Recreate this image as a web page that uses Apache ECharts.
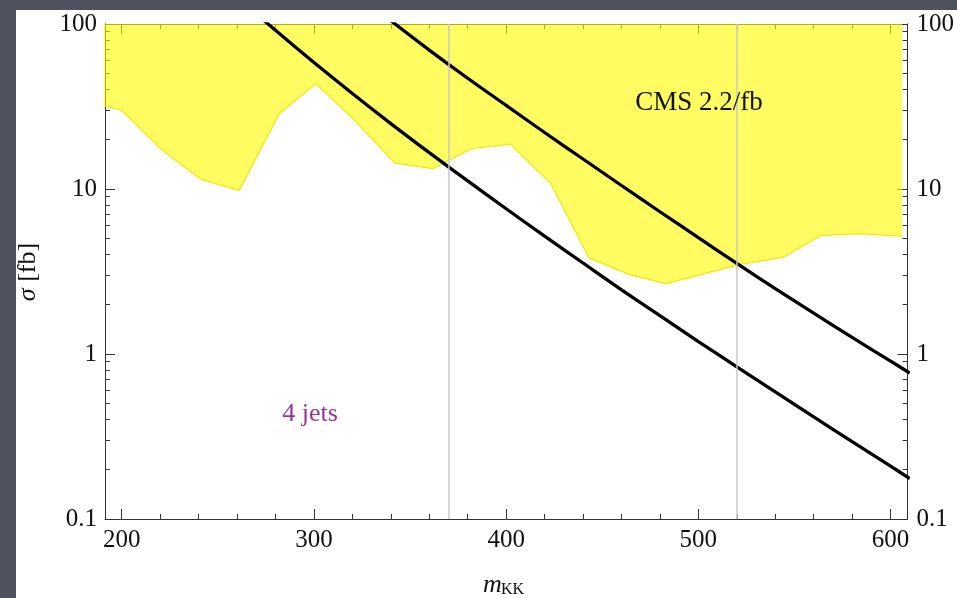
<!DOCTYPE html>
<html>
<head>
<meta charset="utf-8">
<script src="https://cdn.jsdelivr.net/npm/echarts@6/dist/echarts.min.js"></script>
<style>
  html, body { margin: 0; padding: 0; width: 957px; height: 598px; overflow: hidden; background: #4e525e; }
  #panel { position: absolute; left: 16px; top: 10px; width: 941px; height: 588px; background: #ffffff; }
  #chart { position: absolute; left: 0; top: 0; width: 957px; height: 598px; }
</style>
</head>
<body>
<div id="panel"></div>
<div id="chart"></div>
<script>
// CMS 2.2/fb excluded cross sections (lower edge of the excluded band), fb
const cmsMass  = [190, 200, 221, 241, 261, 282, 301, 322, 342, 362, 382, 402, 423, 443, 464, 483, 521, 544, 564, 584, 606];
const cmsSigma = [32.1, 30.0, 17.2, 11.5, 9.8, 28.7, 43.5, 25.5, 14.4, 13.3, 17.6, 18.7, 10.9, 3.84, 3.04, 2.67, 3.48, 3.86, 5.24, 5.37, 5.17];

// Predicted cross sections, 4-jet channel (fb)
const upperMass  = [340, 360, 380, 400, 420, 440, 460, 480, 500, 520, 540, 560, 580, 600, 610];
const upperSigma = [104.7, 69.5, 46.9, 32.1, 22.0, 15.2, 10.5, 7.28, 5.07, 3.54, 2.49, 1.77, 1.26, 0.906, 0.767];

const lowerMass  = [270, 280, 300, 320, 340, 360, 380, 400, 420, 440, 460, 480, 500, 520, 540, 560, 580, 600, 610];
const lowerSigma = [114.8, 91.6, 58.5, 37.9, 24.9, 16.6, 11.2, 7.59, 5.18, 3.56, 2.45, 1.71, 1.19, 0.836, 0.589, 0.416, 0.294, 0.209, 0.176];

// Benchmark masses marked with vertical lines
const markMasses = [370, 520];

// Axis ticks
const xMajorTicks = [200, 300, 400, 500, 600];
const xMinorTicks = [220, 240, 260, 280, 320, 340, 360, 380, 420, 440, 460, 480, 520, 540, 560, 580];
const yMajorTicks = [0.1, 1, 10, 100];
const yMinorTicks = [0.2, 0.3, 0.4, 0.5, 0.6, 0.7, 0.8, 0.9, 2, 3, 4, 5, 6, 7, 8, 9, 20, 30, 40, 50, 60, 70, 80, 90];

const X_MIN = 191.3, X_MAX = 608.8;
const FONT = '"Liberation Serif", "Times New Roman", serif';
const AXIS_COLOR = '#333333';
const pair = (xs, ys) => xs.map((x, i) => [x, ys[i]]);

function xAxisDef(position, ticks, len, withLine, withLabels) {
  return {
    type: 'value', position: position, min: X_MIN, max: X_MAX,
    axisLine: { show: withLine, lineStyle: { color: AXIS_COLOR, width: 1 } },
    axisTick: { show: true, inside: true, length: len, customValues: ticks, lineStyle: { color: AXIS_COLOR, width: 1 } },
    axisLabel: withLabels ? { show: true, customValues: ticks, margin: 9, fontFamily: FONT, fontSize: 25, color: '#111' } : { show: false },
    splitLine: { show: false }
  };
}
function yAxisDef(position, ticks, len, withLine, withLabels, margin) {
  return {
    type: 'log', logBase: 10, position: position, min: 0.1, max: 100,
    axisLine: { show: withLine, lineStyle: { color: AXIS_COLOR, width: 1 } },
    axisTick: { show: true, inside: true, length: len, customValues: ticks, lineStyle: { color: AXIS_COLOR, width: 1 } },
    axisLabel: withLabels ? {
      show: true, customValues: ticks, margin: margin, fontFamily: FONT, fontSize: 25, color: '#111',
      formatter: v => String(+v.toPrecision(3))
    } : { show: false },
    splitLine: { show: false }
  };
}

const chart = echarts.init(document.getElementById('chart'), null, { renderer: 'canvas' });
chart.setOption({
  backgroundColor: 'transparent',
  animation: false,
  grid: { left: 105, top: 24, right: 49, bottom: 79, containLabel: false },
  xAxis: [
    xAxisDef('bottom', xMajorTicks, 10, true, true),
    xAxisDef('bottom', xMinorTicks, 5, false, false),
    xAxisDef('top', xMajorTicks, 10, true, false),
    xAxisDef('top', xMinorTicks, 5, false, false)
  ],
  yAxis: [
    yAxisDef('left', yMajorTicks, 10, true, true, 8),
    yAxisDef('left', yMinorTicks, 5, false, false, 0),
    yAxisDef('right', yMajorTicks, 10, true, true, 9),
    yAxisDef('right', yMinorTicks, 5, false, false, 0)
  ],
  series: [
    {
      name: 'benchmarks', type: 'line', data: [], z: 1,
      markLine: {
        silent: true, symbol: ['none', 'none'], animation: false,
        label: { show: false },
        lineStyle: { color: '#c8c8c8', width: 1.5, type: 'solid' },
        data: markMasses.map(m => ({ xAxis: m }))
      }
    },
    {
      name: 'CMS 2.2/fb', type: 'line', data: pair(cmsMass, cmsSigma), z: 2,
      clip: false, symbol: 'none', silent: true,
      lineStyle: { color: '#f2e800', width: 1.2 },
      areaStyle: { color: 'rgba(255,252,0,0.62)', opacity: 1, origin: 'end' }
    },
    {
      name: 'upper', type: 'line', data: pair(upperMass, upperSigma), z: 3,
      symbol: 'none', smooth: 0.3, clip: true,
      lineStyle: { color: '#000', width: 3.3 }
    },
    {
      name: 'lower', type: 'line', data: pair(lowerMass, lowerSigma), z: 3,
      symbol: 'none', smooth: 0.3, clip: true,
      lineStyle: { color: '#000', width: 3.3 }
    }
  ],
  graphic: [
    { type: 'text', x: 699, y: 102.5, z: 100,
      style: { text: 'CMS 2.2/fb', font: '27px ' + FONT, fill: '#111', align: 'center', verticalAlign: 'middle', textAlign: 'center', textVerticalAlign: 'middle' } },
    { type: 'text', x: 310, y: 414.5, z: 100,
      style: { text: '4 jets', font: '26px ' + FONT, fill: '#993399', align: 'center', verticalAlign: 'middle', textAlign: 'center', textVerticalAlign: 'middle' } },
    { type: 'text', x: 483, y: 585, z: 100,
      style: { text: 'm', font: 'italic 26px ' + FONT, fill: '#111', align: 'left', verticalAlign: 'middle', textAlign: 'left', textVerticalAlign: 'middle' } },
    { type: 'text', x: 501, y: 590, z: 100,
      style: { text: 'KK', font: '16px ' + FONT, fill: '#111', align: 'left', verticalAlign: 'middle', textAlign: 'left', textVerticalAlign: 'middle' } },
    { type: 'text', x: 28, y: 272, rotation: Math.PI / 2, z: 100,
      style: { text: '{s|σ} [fb]', font: '26px ' + FONT, fill: '#111', align: 'center', verticalAlign: 'middle', textAlign: 'center', textVerticalAlign: 'middle',
        rich: { s: { fontStyle: 'italic', fontFamily: FONT, fontSize: 26, fill: '#111' } } } }
  ]
});
</script>
</body>
</html>
